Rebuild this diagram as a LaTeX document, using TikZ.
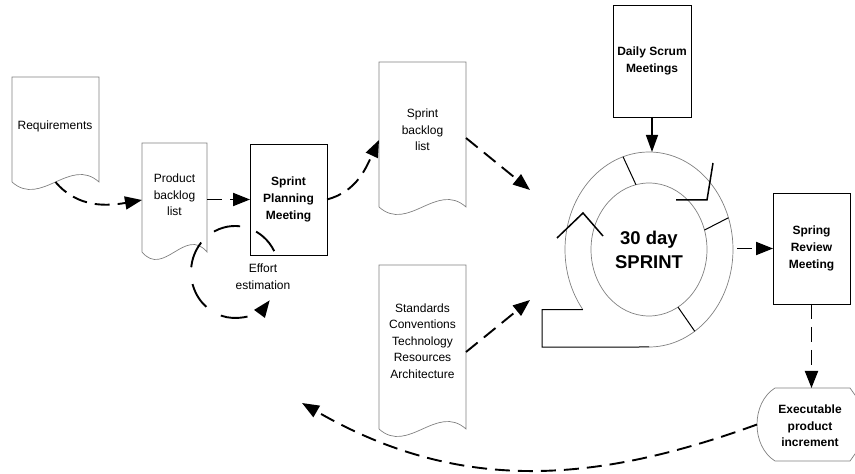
\documentclass[tikz,border=0pt]{standalone}
\usepackage{fontspec}
\setmainfont{Liberation Sans}
\usetikzlibrary{arrows.meta,calc}

% outline of a "document" symbol: straight top and sides, wavy bottom
\newcommand\docoutline[1]{%
  \draw[docline] (#1.south west) -- (#1.north west) -- (#1.north east) -- (#1.south east)
    .. controls ($(#1.south east)!1/3!(#1.south west)+(0,26pt)$)
       and ($(#1.south east)!2/3!(#1.south west)+(0,-26pt)$) .. (#1.south west) -- cycle;}

\begin{document}
\begin{tikzpicture}[x=1pt,y=1pt,
  every node/.style={inner sep=0pt, outer sep=0pt},
  docline/.style={draw=black!50, line width=0.7pt},
  boxline/.style={draw=black, line width=0.9pt},
  txt/.style={align=center, font=\fontsize{12}{16.6}\selectfont},
  btxt/.style={align=center, font=\fontsize{12}{16.6}\selectfont\bfseries},
  flow/.style={line width=1.9pt, dash pattern=on 15pt off 8pt,
               -{Triangle[length=17pt,width=13pt]}},
  loopflow/.style={line width=1.9pt, dash pattern=on 27pt off 17pt,
               -{Triangle[length=17pt,width=13pt]}},
  solidflow/.style={line width=1.4pt, -{Triangle[length=17pt,width=12pt]}},
  ringline/.style={draw=black!50, line width=0.7pt},
  divider/.style={draw=black, line width=1pt},
  chevron/.style={draw=black, line width=1.5pt},
]
\useasboundingbox (0,0) rectangle (855,474);

% ---------- document symbols ----------
\node[minimum width=87pt, minimum height=105pt] (req) at (55.5,344.5) {};
\node[minimum width=65pt, minimum height=109pt] (pbl) at (174.5,276.5) {};
\node[minimum width=87pt, minimum height=145pt] (sbl) at (422.5,339.5) {};
\node[minimum width=87pt, minimum height=164pt] (std) at (422.5,127) {};
\docoutline{req}
\docoutline{pbl}
\docoutline{sbl}
\docoutline{std}

\node[txt] (reqtext) at (55,348) {Requirements};
\node[txt] (pbltext) at (174.5,279) {Product\\backlog\\list};
\node[txt] (sbltext) at (422.5,344) {Sprint\\backlog\\list};
\node[txt] (stdtext) at (422.5,133) {Standards\\Conventions\\Technology\\Resources\\Architecture};

% ---------- meeting boxes ----------
\node[boxline, minimum width=77pt, minimum height=111pt, btxt] (spm) at (288.5,274.5) {Sprint\\Planning\\Meeting};
\node[boxline, minimum width=78pt, minimum height=112pt, btxt] (dsm) at (652,413) {Daily Scrum\\Meetings};
\node[boxline, minimum width=77pt, minimum height=111pt, btxt] (srm) at (811.5,225.5) {Spring\\Review\\Meeting};

% ---------- executable product increment ----------
\node[minimum width=75pt, minimum height=73pt] (exe) at (812.5,49.5) {};
\draw[docline] (exe.north west) -- (exe.north east) -- ++(26,-36.5) -- (exe.south east)
  -- (exe.south west) .. controls (751,28) and (751,71) .. (exe.north west) -- cycle;
\node[btxt] (exetext) at (810,48) {Executable\\product\\increment};
\coordinate (exetip) at ([xshift=-18pt]exe.west);

% ---------- the sprint cycle ----------
\node[align=center, font=\fontsize{18.5}{24}\selectfont\bfseries] (sprint) at (649,224.5) {30 day\\SPRINT};
\coordinate (tailjoin) at ($(sprint.center)+(218:84pt and 97.5pt)$);
\coordinate (ringbottom) at ($(sprint.center)+(0,-97.5pt)$);
\coordinate (ringtop) at ($(sprint.center)+(0,97.5pt)$);
\draw[ringline] (tailjoin) arc[start angle=218, end angle=-90, x radius=84pt, y radius=97.5pt];
\draw[ringline] (sprint.center) ellipse[x radius=58pt, y radius=66.5pt];
\draw[divider] (tailjoin) -- ++(-40.8,0) -- ++(0,-37.5) -- (ringbottom);
\draw[divider] ($(sprint.center)+(103:58pt and 66.5pt)$) -- ($(sprint.center)+(108:84pt and 97.5pt)$);
\draw[divider] ($(sprint.center)+(17:58pt and 66.5pt)$) -- ($(sprint.center)+(19:84pt and 97.5pt)$);
\draw[divider] ($(sprint.center)+(-60:58pt and 66.5pt)$) -- ($(sprint.center)+(-57:84pt and 97.5pt)$);
\draw[chevron] (676,274) -- (707,274) -- (713,311);
\draw[chevron] (557,236) -- (583,261) -- (603,238);

% ---------- flows ----------
\coordinate (feedA) at (530,284);
\coordinate (feedB) at (530,174);
\coordinate (ringexit) at (737,225.5);
\coordinate (back) at (302,71);
\coordinate (effortc) at (235,202);

\draw[flow] (req.south) to[out=-50,in=190] ([yshift=-2.5pt]pbl.west);
\draw[flow] (pbl.east |- spm.west) -- (spm.west);
\draw[flow] (spm.east) to[out=15,in=-115] ([yshift=-5.5pt]sbl.west);
\draw[flow] ([yshift=-3.5pt]sbl.east) -- (feedA);
\draw[flow] ([yshift=-5pt]std.east) -- (feedB);
\draw[solidflow] (dsm.south) -- (dsm.south |- ringtop);
\draw[flow] (ringexit) -- (srm.west);
\draw[flow] (srm.south) -- (srm.south |- exe.north);
\draw[flow] (exetip) to[out=200,in=-30] (back);

% effort estimation loop
\draw[loopflow] ($(effortc)+(27:44pt and 46pt)$) arc[start angle=27, end angle=322, x radius=44pt, y radius=46pt];
\node[txt] (effort) at (263,197) {Effort\\estimation};
\end{tikzpicture}
\end{document}
